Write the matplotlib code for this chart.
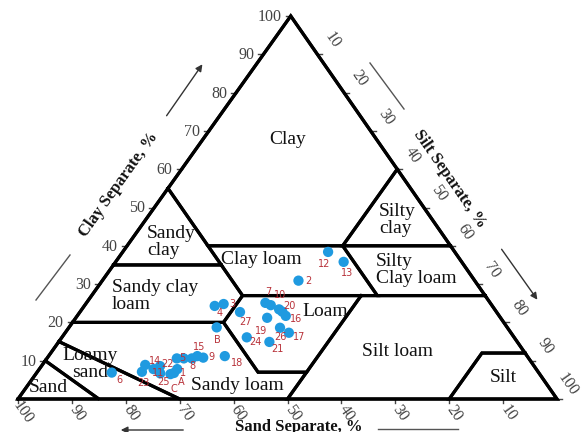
import numpy as np
import matplotlib
matplotlib.use('Agg')
import matplotlib.pyplot as plt

# sample points: sand %, clay % (silt = rest)
labels = ['1', '2', '3', '4', '5', '6', '7', '8', '9', '10',
          '11', '12', '13', '14', '15', '16', '17', '18', '19', '20',
          '21', '22', '23', '24', '25', '26', '27', 'A', 'B', 'C', '', '']
sand = [66.6, 32.7, 49.6, 51.5, 64.0, 79.2, 41.7, 62.5, 60.3, 41.0,
        70.3, 23.5, 21.9, 69.4, 61.2, 39.6, 41.2, 56.1, 43.3, 40.0,
        46.0, 65.3, 73.5, 49.6, 71.0, 42.2, 47.6, 67.7, 53.9, 68.5, 72.0, 39.7]
clay = [7.8, 30.9, 24.8, 24.3, 10.6, 6.9, 25.1, 10.6, 10.8, 24.5,
        6.7, 38.4, 35.8, 8.6, 11.2, 21.7, 17.3, 11.2, 21.2, 23.4,
        14.9, 10.6, 7.1, 16.1, 7.8, 18.6, 22.7, 6.8, 18.7, 6.5, 8.9, 22.8]

# label offsets in pixels (dx, dy down)
lab_off = [(6, 4), (10, 0), (9, 0), (5, 7), (-2, 0), (8, 7), (3, -11), (1, 8), (8, -1), (9, -10),
           (-2, 0), (-4, 12), (3, 11), (-5, -5), (2, -9), (10, 3), (10, 4), (12, 7), (-6, 13), (10, -3),
           (8, 7), (-9, 6), (2, 11), (9, 5), (10, 13), (0, 9), (6, 10), (7, 9), (1, 13), (3, 15), (0, 0), (0, 0)]

# USDA texture classes: polygons as (sand, clay)
classes = {
    'Clay': [(45, 55), (0, 100), (0, 60), (20, 40), (45, 40)],
    'Sandy clay': [(65, 35), (45, 55), (45, 35)],
    'Silty clay': [(0, 60), (0, 40), (20, 40)],
    'Silty clay loam': [(0, 40), (0, 27), (20, 27), (20, 40)],
    'Clay loam': [(20, 40), (20, 27), (45, 27), (45, 35), (45, 40)],
    'Sandy clay loam': [(45, 35), (45, 27), (52, 20), (80, 20), (65, 35)],
    'Loam': [(23, 27), (45, 27), (52, 20), (52, 7), (43, 7)],
    'Silt loam': [(0, 27), (23, 27), (43, 7), (50, 0), (20, 0), (8, 12), (0, 12)],
    'Silt': [(0, 12), (8, 12), (20, 0), (0, 0)],
    'Sandy loam': [(80, 20), (52, 20), (52, 7), (43, 7), (50, 0), (70, 0), (85, 15)],
    'Loamy sand': [(85, 15), (70, 0), (85, 0), (90, 10)],
    'Sand': [(90, 10), (85, 0), (100, 0)],
}

ticks = [10, 20, 30, 40, 50, 60, 70, 80, 90, 100]

X0, Y0, W, H, SK = 18, 399, 539, 383, 0.506


def tern(s, c):
    s = np.asarray(s, float)
    c = np.asarray(c, float)
    silt = 100 - s - c
    return X0 + W * (silt + SK * c) / 100, Y0 - H * c / 100


serif = ['Liberation Serif', 'DejaVu Serif']
fig = plt.figure(figsize=(5.82, 4.32), dpi=100)
ax = fig.add_axes([0, 0, 1, 1])
ax.set_xlim(0, 582)
ax.set_ylim(432, 0)
ax.axis('off')

# outer triangle
tx, ty = tern([100, 0, 0, 100], [0, 0, 100, 0])
ax.plot(tx, ty, color='black', lw=2.3, solid_joinstyle='miter', zorder=3)
for name, poly in classes.items():
    ps = [p[0] for p in poly] + [poly[0][0]]
    pc = [p[1] for p in poly] + [poly[0][1]]
    px, py = tern(ps, pc)
    ax.plot(px, py, color='black', lw=2.3, solid_joinstyle='miter', zorder=3)

# class names
txt = dict(family=serif, fontsize=14, color='#111111', zorder=4)
ax.text(288, 140, 'Clay', ha='center', va='center', **txt)
ax.text(147, 242, 'Sandy\nclay', ha='left', va='center', linespacing=1.0, **txt)
ax.text(261, 260, 'Clay loam', ha='center', va='center', **txt)
ax.text(379, 220, 'Silty\nclay', ha='left', va='center', linespacing=1.0, **txt)
ax.text(376, 270, 'Silty\nClay loam', ha='left', va='center', linespacing=1.0, **txt)
ax.text(112, 296, 'Sandy clay\nloam', ha='left', va='center', linespacing=1.0, **txt)
ax.text(325, 311, 'Loam', ha='center', va='center', **txt)
ax.text(398, 352, 'Silt loam', ha='center', va='center', **txt)
ax.text(503, 377, 'Silt', ha='center', va='center', **txt)
ax.text(237, 386, 'Sandy loam', ha='center', va='center', **txt)
ax.text(90, 364, 'Loamy\nsand', ha='center', va='center', linespacing=1.0, **txt)
ax.text(48, 388, 'Sand', ha='center', va='center', **txt)

# ticks and tick labels
tk = dict(family=serif, fontsize=11.5, color='#444444')
for t in ticks:
    # clay on left edge
    x, y = tern(100 - t, t)
    ax.plot([x - 5, x], [y, y], color='#444444', lw=1)
    ax.text(x - 9, y + 1, str(t), ha='right', va='center', **tk)
    # silt on right edge
    x, y = tern(0, 100 - t)
    ax.plot([x, x + 5], [y, y], color='#444444', lw=1)
    dx = 15 if t < 100 else 11
    ax.text(x + dx, y - 14, str(t), ha='center', va='center', rotation=-55, **tk)
    # sand on bottom edge
    x, y = tern(t, 0)
    ax.plot([x, x], [y, y + 4], color='#444444', lw=1)
    ax.text(x + 5, y + 14, str(t), ha='center', va='center', rotation=-55, **tk)

# axis titles
ttl = dict(family=serif, fontsize=12, fontweight='bold', color='#111111')
ax.text(119, 185, 'Clay Separate, %', ha='center', va='center', rotation=54.5, **ttl)
ax.text(450, 179, 'Silt Separate, %', ha='center', va='center', rotation=-55.2, **ttl)
ax.text(299, 419, 'Sand Separate, %', ha='center', va='top', **ttl)

# direction arrows and lines
arr = dict(arrowstyle='-|>', color='#333333', lw=1, mutation_scale=10)
ax.annotate('', xy=(204, 62), xytext=(165, 118), arrowprops=arr)
ax.annotate('', xy=(539, 302), xytext=(500, 247), arrowprops=arr)
ax.annotate('', xy=(118, 430), xytext=(186, 430), arrowprops=arr)
ax.plot([36, 70], [300, 255], color='#555555', lw=1)
ax.plot([370, 404], [63, 109], color='#555555', lw=1)
ax.plot([378, 458], [429, 429], color='#555555', lw=1)

# sample points
px, py = tern(sand, clay)
ax.scatter(px, py, s=55, color='#1F9AE0', edgecolors='none', zorder=5)
for i, lab in enumerate(labels):
    if lab:
        ax.text(px[i] + lab_off[i][0], py[i] + lab_off[i][1], lab, ha='center', va='center',
                fontsize=7, color='#B8323A', family='DejaVu Sans', zorder=6)

fig.savefig('out.png', dpi=100, facecolor='white')
